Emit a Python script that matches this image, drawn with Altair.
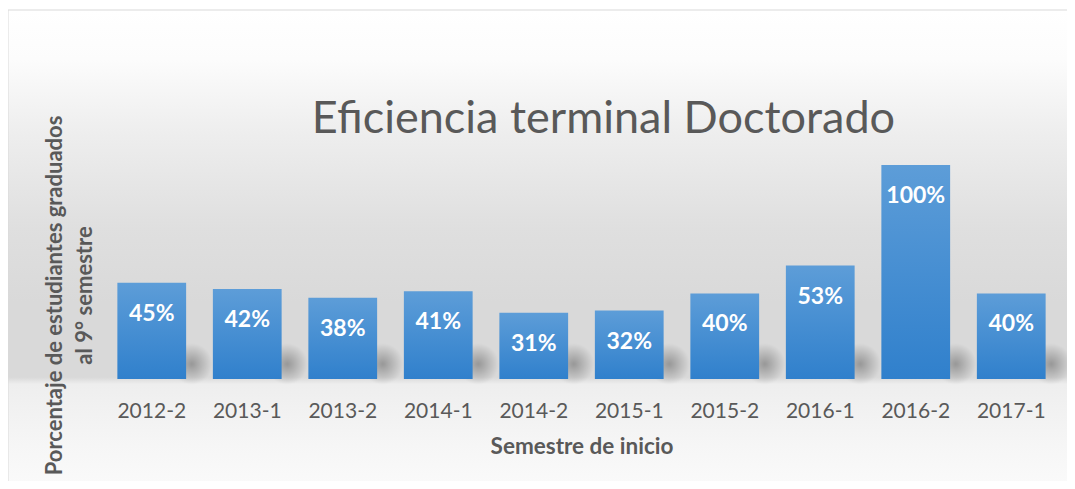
import altair as alt
import pandas as pd

categories = ["2012-2", "2013-1", "2013-2", "2014-1", "2014-2",
              "2015-1", "2015-2", "2016-1", "2016-2", "2017-1"]
values = [0.45, 0.42, 0.38, 0.41, 0.31, 0.32, 0.40, 0.53, 1.00, 0.40]

df = pd.DataFrame({"semestre": categories, "valor": values})

FONT = "Lato"
GREY = "#595959"

x_scale = alt.Scale(range=[96, 1051], paddingInner=0.28, paddingOuter=0.14)
x_axis = alt.Axis(
    title="Semestre de inicio", orient="bottom", offset=-102,
    domain=False, ticks=False, tickSize=0, grid=False,
    labelPadding=21, labelAngle=0, labelFont=FONT, labelFontSize=21,
    labelColor=GREY, titleFont=FONT, titleFontSize=22.5, titleFontWeight="bold",
    titleColor=GREY, titleBaseline="alphabetic", titleY=74,
)
x_enc = alt.X("semestre:N", sort=categories, scale=x_scale, axis=x_axis)

y_scale = alt.Scale(domain=[0, 1], range=[369, 155])
y_axis = alt.Axis(
    title=["Porcentaje de estudiantes graduados", "al 9° semestre"],
    labels=False, ticks=False, domain=False, grid=False, zindex=1,
    titleX=46, titleY=285, titleBaseline="middle", titleLineHeight=30,
    titleFont=FONT, titleFontSize=22, titleFontWeight="bold", titleColor=GREY,
)
y_enc = alt.Y("valor:Q", scale=y_scale, axis=y_axis)

background = alt.Chart(pd.DataFrame({"bg": [0]})).mark_rect(
    stroke="#d9d9d9", strokeWidth=1,
    fill={
        "gradient": "linear", "x1": 0, "y1": 0, "x2": 0, "y2": 1,
        "stops": [
            {"offset": 0.0, "color": "#ffffff"},
            {"offset": 0.10, "color": "#fcfcfc"},
            {"offset": 0.245, "color": "#eeeeee"},
            {"offset": 0.44, "color": "#dfdfdf"},
            {"offset": 0.59, "color": "#d9d9d9"},
            {"offset": 0.742, "color": "#d9d9d9"},
            {"offset": 0.756, "color": "#eeeeee"},
            {"offset": 0.88, "color": "#f6f6f6"},
            {"offset": 1.0, "color": "#fcfcfc"},
        ],
    },
).encode(
    x=alt.value(0), x2=alt.value(1100),
    y=alt.value(0), y2=alt.value(495),
)

base = alt.Chart(df)

shadow = base.mark_rect(
    xOffset=40,
    fill={
        "gradient": "radial",
        "x1": 0.5, "y1": 0.5, "r1": 0,
        "x2": 0.5, "y2": 0.5, "r2": 0.3,
        "stops": [
            {"offset": 0, "color": "rgba(0,0,0,0.30)"},
            {"offset": 0.4, "color": "rgba(0,0,0,0.18)"},
            {"offset": 1, "color": "rgba(0,0,0,0)"},
        ],
    },
).encode(
    x=x_enc,
    y=alt.Y(datum=0.17, scale=y_scale, axis=y_axis),
    y2=alt.Y2(datum=-0.03),
)

bars = base.mark_bar(
    fill={
        "gradient": "linear", "x1": 0, "y1": 0, "x2": 0, "y2": 1,
        "stops": [
            {"offset": 0, "color": "#5d9dd8"},
            {"offset": 1, "color": "#3080cc"},
        ],
    },
).encode(x=x_enc, y=y_enc)

labels = base.mark_text(
    font=FONT, fontSize=23, fontWeight="bold", color="white",
    baseline="alphabetic", align="center", dy=38,
).encode(x=x_enc, y=y_enc, text=alt.Text("valor:Q", format=".0%"))

chart = (
    alt.layer(background, shadow, bars, labels)
    .properties(
        width=1059, height=471, autosize="none",
        padding={"left": 0, "top": 2, "right": 0, "bottom": 0},
        title=alt.TitleParams(
            "Eficiencia terminal Doctorado", font=FONT, fontSize=45,
            fontWeight="normal", color=GREY, anchor="middle", frame="group",
            offset=-168, dx=66, baseline="alphabetic",
        ),
    )
    .configure_view(stroke=None)
)

chart.save("out.html", embed_options={"renderer": "svg", "actions": False})
